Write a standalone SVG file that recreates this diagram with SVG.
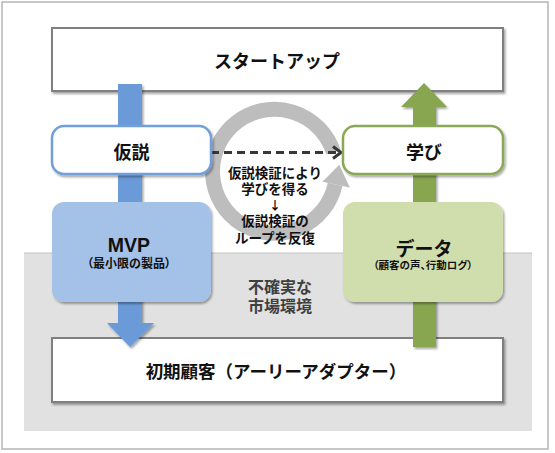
<svg xmlns="http://www.w3.org/2000/svg" width="555" height="453" viewBox="0 0 555 453">
<style>
text{font-family:"Noto Sans CJK JP","Noto Sans",sans-serif;font-weight:bold;fill:#111;text-anchor:middle}
.big{font-size:18px}
.mid{font-size:17.5px}
.sub{font-feature-settings:"palt";font-weight:bold}
.center{font-size:13.5px}
.env{font-size:16px;fill:#3f3f3f}
.latin{font-family:"Liberation Sans","Noto Sans CJK JP",sans-serif;font-size:19.5px}
.wide{fill:#fff;stroke:#7f7f7f;stroke-width:2}
</style>
<defs>
<filter id="sh" x="-10%" y="-10%" width="125%" height="140%">
<feDropShadow dx="1.5" dy="2" stdDeviation="1.3" flood-color="#000" flood-opacity="0.35"/>
</filter>
</defs>
<rect x="2" y="2" width="546" height="447" fill="#fff" stroke="#b5b5b5" stroke-width="1.5"/>
<rect x="24" y="253" width="508" height="178" fill="#e1e1e1"/>
<line x1="24" y1="253" x2="532" y2="253" stroke="#c4c4c4" stroke-width="1"/>

<g id="startup">
<rect class="wide" x="52" y="28" width="451" height="63" filter="url(#sh)"/>
<text class="big" x="277" y="68">スタートアップ</text>
</g>
<g id="customers">
<rect class="wide" x="52" y="338" width="451" height="64" filter="url(#sh)"/>
<text class="mid" x="276" y="378">初期顧客（アーリーアダプター）</text>
</g>

<g id="loop">
<path d="M333.5 152.3 A62 62 0 1 0 335.1 184.4" fill="none" stroke="#bdbdbd" stroke-width="15"/>
<polygon points="322.4,181.7 349.8,187.5 339.3,164.8" fill="#bdbdbd"/>
</g>

<g id="connectors">
<polygon points="118,84 142,84 142,323 154,323 130,347 107,323 118,323" fill="#6a9bd8" filter="url(#sh)"/>
<polygon points="413,347 436,347 436,107 447,107 424,83 401,107 413,107" fill="#88a550" filter="url(#sh)"/>
<line x1="211" y1="152.5" x2="338" y2="152.5" stroke="#383838" stroke-width="3" stroke-dasharray="8 5"/>
<polyline points="333,146.5 341,152.5 333,158.5" fill="none" stroke="#383838" stroke-width="3" stroke-linejoin="miter"/>
</g>

<g id="hypothesis">
<rect x="52" y="126" width="159" height="48" rx="12" fill="#fff" stroke="#6f9fda" stroke-width="2.5" filter="url(#sh)"/>
<text class="big" x="131.5" y="159">仮説</text>
</g>
<g id="learning">
<rect x="343" y="126" width="160" height="48" rx="12" fill="#fff" stroke="#8aa856" stroke-width="2.5" filter="url(#sh)"/>
<text class="big" x="424" y="159">学び</text>
</g>
<g id="mvp">
<rect x="52" y="202" width="159" height="100" rx="12" fill="#a4c1e7" filter="url(#sh)"/>
<text class="latin" x="129" y="252">MVP</text>
<text class="sub" x="129" y="268" font-size="12">（最小限の製品）</text>
</g>
<g id="data">
<rect x="343" y="202" width="160" height="100" rx="12" fill="#d0deae" filter="url(#sh)"/>
<text x="424" y="256" font-size="19">データ</text>
<text class="sub" x="423" y="269" font-size="10.5">（顧客の声、行動ログ）</text>
</g>

<g id="loop-label">
<text class="center" x="275" y="177.5">仮説検証により</text>
<text class="center" x="275" y="193.5">学びを得る</text>
<text x="275" y="210" font-size="12" font-weight="normal">↓</text>
<text class="center" x="275" y="226">仮説検証の</text>
<text class="center" x="275" y="242.5">ループを反復</text>
</g>
<g id="environment">
<text class="env" x="280" y="293">不確実な</text>
<text class="env" x="280" y="312">市場環境</text>
</g>
</svg>
